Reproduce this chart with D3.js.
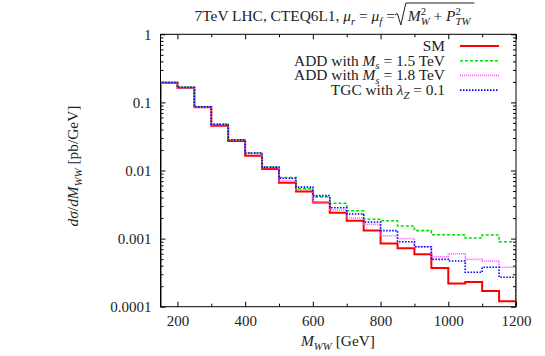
<!DOCTYPE html>
<html>
<head>
<meta charset="utf-8">
<script src="https://cdn.jsdelivr.net/npm/d3@7"></script>
<style>
  body { margin: 0; background: #fff; }
  svg text { font-family: "Liberation Serif", "DejaVu Serif", serif; fill: #222; }
</style>
</head>
<body>
<div id="chart"></div>
<script>
// bin edges (GeV), bins are 50 GeV wide from 150 to 1200
const binStarts = [150, 200, 250, 300, 350, 400, 450, 500, 550, 600, 650, 700, 750, 800, 850, 900, 950, 1000, 1050, 1100, 1150];
const binEnd = 1200;

// d sigma / d M_WW in pb/GeV
const smValues   = [0.195, 0.164, 0.0848, 0.0455, 0.0271, 0.0165, 0.0105, 0.0066, 0.0049, 0.0034, 0.0024, 0.00183, 0.00131, 0.00085, 0.00072, 0.00059, 0.00037, 0.00022, 0.00023, 0.00017, 0.00012];
const add15Values = [0.196, 0.166, 0.0862, 0.0476, 0.0283, 0.0181, 0.0112, 0.0079, 0.0054, 0.0041, 0.0033, 0.00257, 0.00192, 0.00183, 0.00153, 0.00131, 0.00114, 0.00114, 0.00102, 0.00113, 0.00090];
const add18Values = [0.195, 0.164, 0.085, 0.047, 0.028, 0.0178, 0.011, 0.0071, 0.0052, 0.0034, 0.00263, 0.00201, 0.00162, 0.00110, 0.00100, 0.00076, 0.00054, 0.00060, 0.000495, 0.00047, 0.00038];
const tgcValues  = [0.196, 0.166, 0.0862, 0.0476, 0.0283, 0.0181, 0.0112, 0.0077, 0.0057, 0.00427, 0.00284, 0.0023, 0.00175, 0.00131, 0.0009, 0.00076, 0.000495, 0.00047, 0.00032, 0.00038, 0.00027];

const xTicks = [200, 400, 600, 800, 1000, 1200];
const xMinorTicks = [300, 500, 700, 900, 1100];
const yTicks = [0.0001, 0.001, 0.01, 0.1, 1];
const yTickLabels = ["0.0001", "0.001", "0.01", "0.1", "1"];

const W = 545, H = 356;
const pLeft = 160.5, pRight = 516, pTop = 34.3, pBottom = 306.7;
const fs = 15, fsText = 15.4;

let svg = d3.select("#chart").append("svg").attr("width", W).attr("height", H);

let x = d3.scaleLinear().domain([150, 1200]).range([pLeft, pRight]);
let y = d3.scaleLog().domain([0.0001, 1]).range([pBottom, pTop]);

// small helper for text with italic / sub / sup pieces
function rich(parent, px, py, segs, anchor) {
  let t = parent.append("text").attr("x", px).attr("y", py)
    .attr("text-anchor", anchor || "start").style("font-size", fsText + "px");
  let shift = 0, prev = null, carry = 0;
  segs.forEach(s => {
    let want = s.sub ? 0.24 * fsText : s.sup ? -0.42 * fsText : 0;
    let ts = t.append("tspan").text(s.t).attr("dy", want - shift);
    if (s.it) ts.style("font-style", "italic");
    if (s.sub || s.sup) ts.style("font-size", (fsText * 0.7) + "px");
    if (carry > 0) ts.attr("dx", carry);
    carry = 0;
    // stack a superscript right above the subscript before it
    if (s.stack && prev) {
      let subLen = prev.node().getComputedTextLength();
      ts.attr("dx", -subLen);
      carry = subLen - ts.node().getComputedTextLength();
    }
    shift = want;
    prev = ts;
  });
  return t;
}

svg.append("clipPath").attr("id", "plotclip")
  .append("rect").attr("x", pLeft).attr("y", pTop).attr("width", pRight - pLeft).attr("height", pBottom - pTop);

// axes with inward ticks, mirrored on opposite side
function tickAxis(axis, pos, vals, size, fmt) {
  let g = svg.append("g").attr("transform", pos)
    .call(axis.tickValues(vals).tickSizeInner(-size).tickSizeOuter(0).tickPadding(fmt ? 9 : 0)
      .tickFormat(fmt || (() => "")));
  g.select(".domain").remove();
  g.selectAll(".tick line").attr("stroke", "#000");
  g.selectAll("text").style("font-size", fs + "px").attr("font-family", null).attr("fill", null);
  return g;
}
tickAxis(d3.axisBottom(x), `translate(0,${pBottom})`, xTicks, 5, d => d);
tickAxis(d3.axisBottom(x), `translate(0,${pBottom})`, xMinorTicks, 3);
tickAxis(d3.axisTop(x), `translate(0,${pTop})`, xTicks, 5);
tickAxis(d3.axisTop(x), `translate(0,${pTop})`, xMinorTicks, 3);

let yMinor = [];
yTicks.slice(0, 4).forEach(d => { for (let k = 2; k < 10; k++) yMinor.push(d * k); });
tickAxis(d3.axisLeft(y), `translate(${pLeft},0)`, yTicks, 5, (d, i) => yTickLabels[i]);
tickAxis(d3.axisLeft(y), `translate(${pLeft},0)`, yMinor, 3);
tickAxis(d3.axisRight(y), `translate(${pRight},0)`, yTicks, 5);
tickAxis(d3.axisRight(y), `translate(${pRight},0)`, yMinor, 3);

// histograms (histeps)
let series = [
  { name: "SM", values: smValues, color: "#ff0000", width: 2, dash: null },
  { name: "ADD15", values: add15Values, color: "#00e000", width: 1.6, dash: "3,2" },
  { name: "ADD18", values: add18Values, color: "#ff55ff", width: 1.6, dash: "1,1" },
  { name: "TGC", values: tgcValues, color: "#0000ff", width: 1.6, dash: "1.5,1.5" }
];

let step = d3.line().x(d => x(d[0])).y(d => d[1] === null ? pBottom + 2 : y(d[1])).curve(d3.curveStepAfter);

let plot = svg.append("g").attr("clip-path", "url(#plotclip)");
series.forEach(s => {
  let pts = [[binStarts[0], null]];
  binStarts.forEach((b, i) => pts.push([b, s.values[i]]));
  pts.push([binEnd, null]);
  plot.append("path")
    .attr("d", step(pts))
    .attr("fill", "none")
    .attr("stroke", s.color)
    .attr("stroke-width", s.width)
    .attr("stroke-dasharray", s.dash);
});

// border
svg.append("rect").attr("x", pLeft).attr("y", pTop).attr("width", pRight - pLeft).attr("height", pBottom - pTop)
  .attr("fill", "none").attr("stroke", "#000").attr("stroke-width", 1);

// legend
let legendRows = [
  [{ t: "SM" }],
  [{ t: "ADD with " }, { t: "M", it: 1 }, { t: "s", it: 1, sub: 1 }, { t: " = 1.5 TeV" }],
  [{ t: "ADD with " }, { t: "M", it: 1 }, { t: "s", it: 1, sub: 1 }, { t: " = 1.8 TeV" }],
  [{ t: "TGC with " }, { t: "λ", it: 1 }, { t: "Z", it: 1, sub: 1 }, { t: " = 0.1" }]
];
legendRows.forEach((row, i) => {
  let ly = 46 + i * 14.7;
  rich(svg, 445, ly + 5, row, "end");
  svg.append("line").attr("x1", 460).attr("x2", 499).attr("y1", ly).attr("y2", ly)
    .attr("stroke", series[i].color).attr("stroke-width", series[i].width)
    .attr("stroke-dasharray", series[i].dash);
});

// title: text, a drawn radical sign, then the radicand
let titleA = rich(svg, 0, 21, [
  { t: "7TeV LHC, CTEQ6L1, " }, { t: "μ", it: 1 }, { t: "r", it: 1, sub: 1 }, { t: " = " },
  { t: "μ", it: 1 }, { t: "f", it: 1, sub: 1 }, { t: " = " }
]);
let titleB = rich(svg, 0, 21, [
  { t: "M", it: 1 }, { t: "W", it: 1, sub: 1 }, { t: "2", sup: 1, stack: 1 }, { t: " + " },
  { t: "P", it: 1 }, { t: "TW", it: 1, sub: 1 }, { t: "2", sup: 1, stack: 1 }
]);
let wa = titleA.node().getComputedTextLength();
let wb = titleB.node().getBBox().width;
let radW = 12;
let tx0 = 333 - (wa + radW + wb) / 2;
titleA.attr("x", tx0);
let rx = tx0 + wa;
titleB.attr("x", rx + radW + 1);
svg.append("path")
  .attr("d", `M${rx},15 L${rx + 2.5},13.5 L${rx + 6},25 L${rx + radW - 1},3 L${rx + radW + wb + 3},3`)
  .attr("fill", "none").attr("stroke", "#222").attr("stroke-width", 1);

// axis titles
rich(svg, 338, 346, [{ t: "M", it: 1 }, { t: "WW", it: 1, sub: 1 }, { t: " [GeV]" }], "middle");
let yl = svg.append("g").attr("transform", "translate(78,166) rotate(-90)");
rich(yl, 0, 0, [{ t: "dσ", it: 1 }, { t: "/" }, { t: "dM", it: 1 }, { t: "WW", it: 1, sub: 1 }, { t: " [pb/GeV]" }], "middle");
</script>
</body>
</html>
